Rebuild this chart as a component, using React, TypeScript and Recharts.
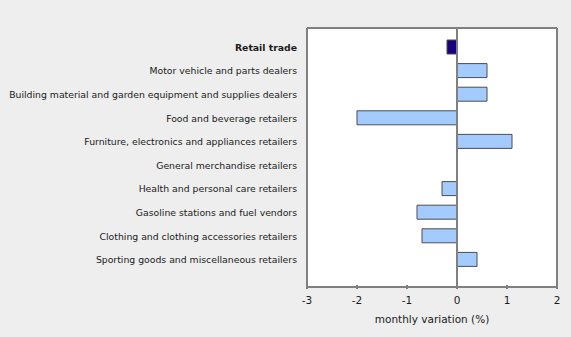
import React from "react";
import { BarChart, Bar, XAxis, YAxis, ReferenceLine, CartesianGrid, Cell } from "recharts";

const categories = [
  "Retail trade",
  "Motor vehicle and parts dealers",
  "Building material and garden equipment and supplies dealers",
  "Food and beverage retailers",
  "Furniture, electronics and appliances retailers",
  "General merchandise retailers",
  "Health and personal care retailers",
  "Gasoline stations and fuel vendors",
  "Clothing and clothing accessories retailers",
  "Sporting goods and miscellaneous retailers",
];
const values = [-0.2, 0.6, 0.6, -2.0, 1.1, 0, -0.3, -0.8, -0.7, 0.4];
const xTicks = [-3, -2, -1, 0, 1, 2];

const data = categories.map((name, i) => ({ name, value: values[i] }));

const FONT = "'DejaVu Sans', Verdana, sans-serif";

const YTick = (props: any) => {
  const { x, y, payload } = props;
  const bold = payload.value === "Retail trade";
  return (
    <text x={x} y={y} dy={4} textAnchor="end" fontFamily={FONT} fontSize={9.3} fill="#1a1a1a" fontWeight={bold ? "bold" : "normal"}>
      {payload.value}
    </text>
  );
};

const XTick = (props: any) => {
  const { x, y, payload } = props;
  return (
    <g>
      <line x1={x} x2={x} y1={y - 6} y2={y - 10} stroke="#808080" strokeWidth={2} />
      <text x={x} y={y} dy={9} textAnchor="middle" fontFamily={FONT} fontSize={10.5} fill="#1a1a1a">
        {payload.value}
      </text>
    </g>
  );
};

export default function App() {
  return (
    <div style={{ position: "absolute", left: 0, top: 0, width: 571, height: 337, background: "#eeeeee" }}>
      <BarChart
        width={571}
        height={337}
        data={data}
        layout="vertical"
        margin={{ top: 28, right: 14, bottom: 0, left: 0 }}
        barSize={14}
      >
        <CartesianGrid
          fill="#ffffff"
          stroke="#808080"
          strokeWidth={2}
          horizontalCoordinatesGenerator={({ offset }: any) => [offset.top, offset.top + offset.height]}
          verticalCoordinatesGenerator={({ offset }: any) => [offset.left, offset.left + offset.width]}
        />
        <XAxis
          type="number"
          domain={[-3, 2]}
          ticks={xTicks}
          height={50}
          axisLine={{ stroke: "#808080", strokeWidth: 2 }}
          tickLine={false}
          tick={<XTick />}
          label={{ value: "monthly variation (%)", position: "insideBottom", offset: 14, fontFamily: FONT, fontSize: 10.5, fill: "#1a1a1a" }}
        />
        <YAxis
          type="category"
          dataKey="name"
          width={307}
          axisLine={false}
          tickLine={false}
          tick={<YTick />}
          tickMargin={4}
          padding={{ top: 7, bottom: 16 }}
          interval={0}
        />
        <ReferenceLine x={0} stroke="#808080" strokeWidth={2} />
        <Bar dataKey="value" isAnimationActive={false} stroke="#4d4d4d" strokeWidth={1}>
          {data.map((d, i) => (
            <Cell key={i} fill={i === 0 ? "#1a007f" : "#a3cbfe"} />
          ))}
        </Bar>
      </BarChart>
    </div>
  );
}
